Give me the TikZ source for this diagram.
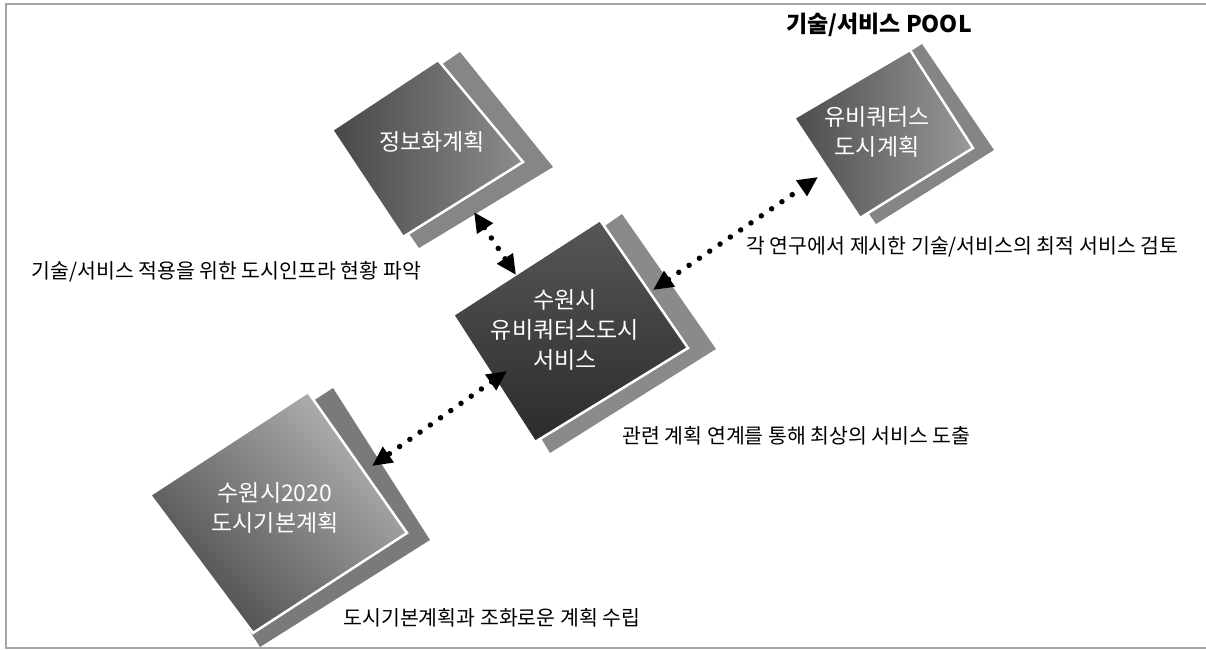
\documentclass[tikz,border=0pt]{standalone}
\usepackage{fontspec}
\setmainfont{Noto Sans CJK KR}
\usetikzlibrary{arrows.meta}
\definecolor{framegray}{HTML}{A6A6A6}

\begin{document}
\begin{tikzpicture}[x=1pt, y=-1pt,
    back/.style={fill=#1},
    front/.style={draw=white, line width=2.5pt, line join=miter},
    label/.style={text=white, align=center, font=\fontsize{23}{30}\selectfont},
    note/.style={anchor=west, font=\fontsize{20.5}{24}\selectfont},
    link/.style={line width=5.5pt, line cap=round, dash pattern=on 0pt off 12.5pt,
        {Triangle[length=20pt,width=18pt]}-{Triangle[length=20pt,width=18pt]}},
]
\useasboundingbox (0,0) rectangle (1206,649);

% Frame
\draw[framegray, line width=1.5pt] (1206,4) -- (6,4) -- (6,648) -- (1206,648);

% Squares (back plate, then front plate)
\fill[back={gray!95!white}] (340,134) -- (460,52) -- (553,167) -- (419,248) -- cycle;
\path[front, left color={black!72}, right color={black!45}]
    (332,130) -- (438,60) -- (523,162) -- (403,237) -- cycle;

\fill[back={black!46}] (470,320) -- (622,214) -- (716,349) -- (550,453) -- cycle;
\path[front, top color={black!66}, bottom color={black!83}]
    (453,315) -- (600,220) -- (688,348) -- (535,442) -- cycle;

\fill[back={black!48}] (805,120) -- (922,44) -- (994,150) -- (876,224) -- cycle;
\path[front, left color={black!70}, right color={black!40}]
    (794,118) -- (910,50) -- (973,148) -- (860,218) -- cycle;

\fill[back={black!52}] (165,498) -- (333,388) -- (430,540) -- (260,647) -- cycle;
\path[front, left color={black!70}, right color={black!30}, shading angle=135]
    (150,495) -- (308,392) -- (407,533) -- (253,633) -- cycle;

% Labels on squares
\node[label] (info) at (432,142) {정보화계획};
\node[label] (hub) at (565,330) {수원시\\유비쿼터스도시\\서비스};
\node[label] (ubiq) at (877,132) {유비쿼터스\\도시계획};
\node[label] (base) at (275,508) {수원시2020\\도시기본계획};

% Arrow ends
\coordinate (info-s) at (474,212);
\coordinate (hub-n) at (516,275);
\coordinate (hub-e) at (653,290);
\coordinate (ubiq-w) at (818,177);
\coordinate (hub-w) at (507,371);
\coordinate (base-e) at (372,466);

% Links
\draw[link] (info-s) -- (hub-n);
\draw[link] (hub-e) -- (ubiq-w);
\draw[link] (hub-w) -- (base-e);

% Notes
\node[font=\fontsize{23}{26}\selectfont\bfseries] (pool) at (879,25) {기술/서비스 POOL};
\node[note] (infra) at (28,272) {기술/서비스 적용을 위한 도시인프라 현황 파악};
\node[note] (review) at (743,247) {각 연구에서 제시한 기술/서비스의 최적 서비스 검토};
\node[note] (derive) at (619,436) {관련 계획 연계를 통해 최상의 서비스 도출};
\node[note] (harmony) at (340,618) {도시기본계획과 조화로운 계획 수립};
\end{tikzpicture}
\end{document}
